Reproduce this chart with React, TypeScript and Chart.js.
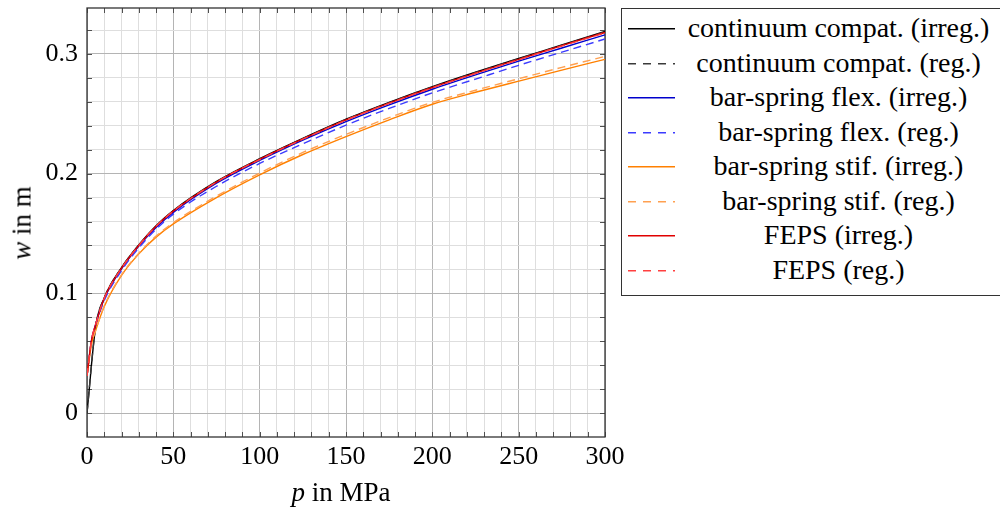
import React, { useEffect, useRef } from "react";
import { Chart, registerables } from "chart.js";

Chart.register(...registerables);

// pressure samples (MPa)
const P = [0, 2.5, 5, 10, 20, 30, 40, 50, 75, 100, 125, 150, 175, 200, 225, 250, 275, 300];

// deflection w in m
const contIrreg = [0, null, 0.072, 0.0962, 0.1215, 0.1405, 0.1565, 0.1692, 0.1935, 0.2125, 0.2295, 0.2455, 0.2596, 0.2727, 0.2848, 0.2963, 0.3075, 0.3188];
const contReg = [0, null, 0.072, 0.0961, 0.1213, 0.1403, 0.1562, 0.1689, 0.1932, 0.2122, 0.2292, 0.2452, 0.2593, 0.2724, 0.2845, 0.296, 0.3072, 0.3184];
const flexIrreg = [0.031, 0.06, 0.074, 0.0955, 0.1205, 0.1395, 0.155, 0.1677, 0.192, 0.211, 0.228, 0.2435, 0.2575, 0.2705, 0.2825, 0.294, 0.305, 0.316];
const flexReg = [0.031, 0.059, 0.073, 0.094, 0.119, 0.138, 0.1535, 0.1662, 0.1895, 0.2085, 0.225, 0.2405, 0.2545, 0.2675, 0.279, 0.2905, 0.3015, 0.3125];
const stifIrreg = [0.031, 0.057, 0.069, 0.089, 0.115, 0.133, 0.147, 0.158, 0.18, 0.199, 0.216, 0.231, 0.245, 0.258, 0.268, 0.2773, 0.2865, 0.2955];
const stifReg = [0.031, 0.057, 0.069, 0.0895, 0.1155, 0.1335, 0.1478, 0.159, 0.1812, 0.2005, 0.2177, 0.2328, 0.2468, 0.2596, 0.2697, 0.2793, 0.2888, 0.298];
const fepsIrreg = [0.031, 0.06, 0.074, 0.096, 0.121, 0.14, 0.156, 0.1687, 0.193, 0.212, 0.229, 0.245, 0.259, 0.272, 0.284, 0.2955, 0.307, 0.318];
const fepsReg = [0.031, 0.06, 0.074, 0.096, 0.121, 0.14, 0.156, 0.1687, 0.193, 0.2118, 0.2288, 0.2447, 0.2587, 0.2717, 0.2837, 0.2952, 0.3066, 0.3176];

const LABELS = [
  "continuum compat. (irreg.)",
  "continuum compat. (reg.)",
  "bar-spring flex. (irreg.)",
  "bar-spring flex. (reg.)",
  "bar-spring stif. (irreg.)",
  "bar-spring stif. (reg.)",
  "FEPS (irreg.)",
  "FEPS (reg.)",
];
const SERIES = [contIrreg, contReg, flexIrreg, flexReg, stifIrreg, stifReg, fepsIrreg, fepsReg];
const COLORS = ["#000000", "#3a3a3a", "#0000cc", "#3b3bff", "#ff8000", "#ffa050", "#e00000", "#ff4040"];
const DASHED = [false, true, false, true, false, true, false, true];

const X_TICK_LABELS = [0, 50, 100, 150, 200, 250, 300];
const Y_TICK_LABELS = [0, 0.1, 0.2, 0.3];
const X_MINOR_STEP = 10;
const Y_MINOR_STEP = 0.02;
const X_MIN = 0, X_MAX = 300, Y_MIN = -0.02, Y_MAX = 0.3384;

const FONT = "'Liberation Serif'";

const isIn = (v: number, arr: number[]) => arr.some((a) => Math.abs(a - v) < 1e-6);

const framePlugin = {
  id: "frame",
  beforeDatasetsDraw(chart: any) {
    const { ctx, chartArea: a, scales } = chart;
    ctx.save();
    ctx.strokeStyle = "#505050";
    ctx.lineWidth = 1;
    const L = 5;
    ctx.beginPath();
    for (const t of scales.x.ticks) {
      const x = Math.round(scales.x.getPixelForValue(t.value)) + 0.5;
      ctx.moveTo(x, a.bottom);
      ctx.lineTo(x, a.bottom - L);
      ctx.moveTo(x, a.top);
      ctx.lineTo(x, a.top + L);
    }
    for (const t of scales.y.ticks) {
      const y = Math.round(scales.y.getPixelForValue(t.value)) + 0.5;
      ctx.moveTo(a.left, y);
      ctx.lineTo(a.left + L, y);
      ctx.moveTo(a.right, y);
      ctx.lineTo(a.right - L, y);
    }
    ctx.stroke();
    ctx.strokeStyle = "#333333";
    ctx.lineWidth = 1.3;
    ctx.strokeRect(a.left, a.top, a.right - a.left, a.bottom - a.top);
    ctx.restore();
  },
};

export default function App() {
  const ref = useRef<HTMLCanvasElement>(null);

  useEffect(() => {
    if (!ref.current) return;
    const datasets = SERIES.map((s, i) => ({
      label: LABELS[i],
      data: P.map((p, j) => ({ x: p, y: s[j] })),
      borderColor: COLORS[i],
      backgroundColor: COLORS[i],
      borderWidth: 1.4,
      borderDash: DASHED[i] ? [8, 5] : [],
      pointRadius: 0,
      cubicInterpolationMode: "monotone" as const,
      spanGaps: true,
      fill: false,
      order: 8 - i,
    }));
    const chart = new Chart(ref.current, {
      type: "line",
      data: { datasets },
      options: {
        animation: false,
        responsive: false,
        devicePixelRatio: 1,
        layout: { padding: { top: 8, right: 395, left: 0, bottom: 0 } },
        plugins: { legend: { display: false }, tooltip: { enabled: false } },
        scales: {
          x: {
            type: "linear",
            min: X_MIN,
            max: X_MAX,
            afterFit: (s: any) => { s.height = 73; s.paddingLeft = 0; s.paddingRight = 0; },
            afterBuildTicks: (s: any) => {
              const t = [];
              for (let v = X_MIN; v <= X_MAX + 1e-9; v += X_MINOR_STEP) t.push({ value: v });
              s.ticks = t;
            },
            grid: {
              drawTicks: false,
              color: (c: any) => (isIn(c.tick.value, X_TICK_LABELS) ? "#b4b4b4" : "#dedede"),
              lineWidth: 1,
            },
            border: { display: false },
            ticks: {
              autoSkip: false,
              maxRotation: 0,
              padding: 5,
              color: "#000",
              font: { family: FONT, size: 26 },
              callback: (v: any) => (isIn(Number(v), X_TICK_LABELS) ? String(Math.round(Number(v))) : ""),
            },
          },
          y: {
            type: "linear",
            min: Y_MIN,
            max: Y_MAX,
            afterFit: (s: any) => { s.width = 87; s.paddingTop = 0; s.paddingBottom = 0; },
            afterBuildTicks: (s: any) => {
              const t = [];
              for (let k = 0; k <= 16; k++) t.push({ value: Math.round(k * Y_MINOR_STEP * 1000) / 1000 });
              s.ticks = t;
            },
            grid: {
              drawTicks: false,
              color: (c: any) => (isIn(c.tick.value, Y_TICK_LABELS) ? "#b4b4b4" : "#dedede"),
              lineWidth: 1,
            },
            border: { display: false },
            ticks: {
              autoSkip: false,
              padding: 9,
              color: "#000",
              font: { family: FONT, size: 26 },
              callback: (v: any) => {
                const n = Number(v);
                if (!isIn(n, Y_TICK_LABELS)) return "";
                return n === 0 ? "0" : n.toFixed(1);
              },
            },
          },
        },
      },
      plugins: [framePlugin],
    });
    return () => chart.destroy();
  }, []);

  const rowTop = 11;
  const rowH = 34.5;

  return (
    <div style={{ position: "fixed", left: 0, top: 0, width: 1000, height: 510, background: "#fff", overflow: "hidden", fontFamily: FONT }}>
      <canvas ref={ref} width={1000} height={510} style={{ position: "absolute", left: 0, top: 0, width: 1000, height: 510 }} />
      <div
        style={{
          position: "absolute",
          left: 341,
          top: 492,
          transform: "translate(-50%, -50%)",
          fontSize: 27,
          whiteSpace: "nowrap",
          color: "#000",
        }}
      >
        <i>p</i> in MPa
      </div>
      <div
        style={{
          position: "absolute",
          left: 22,
          top: 223,
          transform: "translate(-50%, -50%) rotate(-90deg)",
          fontSize: 27,
          whiteSpace: "nowrap",
          color: "#000",
        }}
      >
        <i>w</i> in m
      </div>
      <div
        style={{
          position: "absolute",
          left: 621,
          top: 8,
          width: 390,
          height: 288,
          border: "1.3px solid #333",
          boxSizing: "border-box",
          background: "#fff",
        }}
      />
      {LABELS.map((lab, i) => {
        const top = rowTop + i * rowH;
        return (
          <React.Fragment key={lab}>
            <svg style={{ position: "absolute", left: 627, top: top, width: 50, height: rowH }} width={50} height={rowH}>
              <line
                x1={1}
                x2={48}
                y1={rowH / 2 + 0.5}
                y2={rowH / 2 + 0.5}
                stroke={COLORS[i]}
                strokeWidth={1.3}
                strokeDasharray={DASHED[i] ? "8 7" : undefined}
              />
            </svg>
            <div
              style={{
                position: "absolute",
                left: 680,
                top: top,
                width: 317,
                height: rowH,
                lineHeight: rowH + "px",
                textAlign: "center",
                fontSize: 28,
                whiteSpace: "nowrap",
                color: "#000",
              }}
            >
              {lab}
            </div>
          </React.Fragment>
        );
      })}
    </div>
  );
}
